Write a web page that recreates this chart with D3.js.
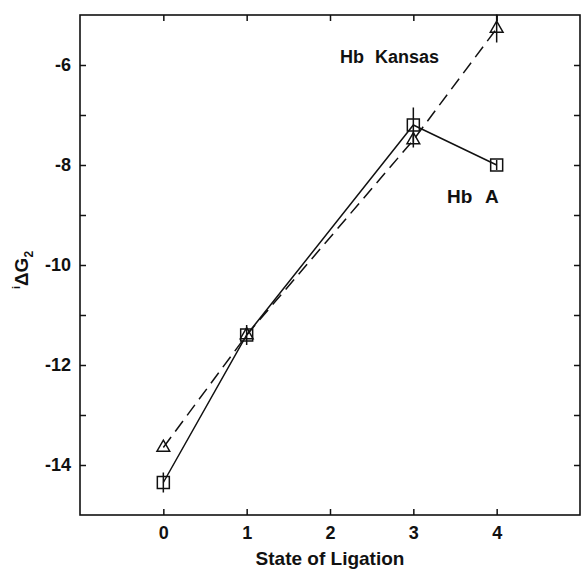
<!DOCTYPE html>
<html>
<head>
<meta charset="utf-8">
<script src="https://cdn.jsdelivr.net/npm/d3@7"></script>
<style>
  body { margin: 0; background: #fff; }
  text { font-family: "Liberation Sans", Arial, Helvetica, sans-serif; font-weight: bold; fill: #111; }
</style>
</head>
<body>
<svg id="chart" width="581" height="571"></svg>
<script>
// Ligation states and free energies (kcal/mol)
const states = [0, 1, 3, 4];
const hbA = [-14.35, -11.4, -7.2, -8.0];
const hbAErr = [0.2, 0.2, 0.35, 0.1];
const hbKansas = [-13.65, -11.4, -7.5, -5.27];
const hbKansasErr = [0, 0, 0.15, 0.28];

const xTicks = [0, 1, 2, 3, 4];
const yTicks = [-14, -13, -12, -11, -10, -9, -8, -7, -6];
const yLabelled = [-14, -12, -10, -8, -6];

const svg = d3.select("#chart");
const plotLeft = 80, plotRight = 580, plotTop = 15, plotBottom = 515;

const x = d3.scaleLinear().domain([-1, 5]).range([plotLeft, plotRight]);
const y = d3.scaleLinear().domain([-15, -5]).range([plotBottom, plotTop]);

const ink = "#111";

// inward ticks on all four sides
const yFmt = d => yLabelled.includes(d) ? String(d) : "";
svg.append("g").attr("transform", `translate(${plotLeft},0)`)
  .call(d3.axisLeft(y).tickValues(yTicks).tickSize(-6).tickSizeOuter(0).tickPadding(9).tickFormat(yFmt))
  .call(g => g.select(".domain").remove())
  .call(g => g.selectAll("line").attr("stroke", ink).attr("stroke-width", 1.5))
  .call(g => g.selectAll("text").attr("font-size", 18).attr("fill", ink));

svg.append("g").attr("transform", `translate(${plotRight},0)`)
  .call(d3.axisRight(y).tickValues(yTicks).tickSize(-6).tickSizeOuter(0).tickFormat(""))
  .call(g => g.select(".domain").remove())
  .call(g => g.selectAll("line").attr("stroke", ink).attr("stroke-width", 1.5));

svg.append("g").attr("transform", `translate(0,${plotBottom})`)
  .call(d3.axisBottom(x).tickValues(xTicks).tickSize(-6).tickSizeOuter(0).tickPadding(11).tickFormat(d => String(d)))
  .call(g => g.select(".domain").remove())
  .call(g => g.selectAll("line").attr("stroke", ink).attr("stroke-width", 1.5))
  .call(g => g.selectAll("text").attr("font-size", 18).attr("fill", ink));

svg.append("g").attr("transform", `translate(0,${plotTop})`)
  .call(d3.axisTop(x).tickValues(xTicks).tickSize(-6).tickSizeOuter(0).tickFormat(""))
  .call(g => g.select(".domain").remove())
  .call(g => g.selectAll("line").attr("stroke", ink).attr("stroke-width", 1.5));

// plot frame
svg.append("rect")
  .attr("x", plotLeft).attr("y", plotTop)
  .attr("width", plotRight - plotLeft).attr("height", plotBottom - plotTop)
  .attr("fill", "none").attr("stroke", ink).attr("stroke-width", 1.6);

const line = d3.line().x(d => x(d[0])).y(d => y(d[1]));

function series(values, errs, dashed, symbol, size) {
  const pts = states.map((s, i) => [s, values[i], errs[i]]);
  const g = svg.append("g");
  g.append("path").datum(pts)
    .attr("d", line)
    .attr("fill", "none").attr("stroke", ink).attr("stroke-width", 1.5)
    .attr("stroke-dasharray", dashed ? "13,7" : null);
  g.selectAll(".err").data(pts.filter(p => p[2] > 0)).join("line")
    .attr("x1", d => x(d[0])).attr("x2", d => x(d[0]))
    .attr("y1", d => y(d[1] - d[2])).attr("y2", d => y(d[1] + d[2]))
    .attr("stroke", ink).attr("stroke-width", 1.5);
  g.selectAll(".mk").data(pts).join("path")
    .attr("transform", d => `translate(${x(d[0])},${y(d[1])})`)
    .attr("d", d3.symbol(symbol, size)())
    .attr("fill", "none").attr("stroke", ink).attr("stroke-width", 1.5);
}

series(hbKansas, hbKansasErr, true, d3.symbolTriangle, 70);
series(hbA, hbAErr, false, d3.symbolSquare, 144);

// series labels
svg.append("text").attr("x", 340).attr("y", 63).attr("font-size", 18)
  .attr("word-spacing", 6).text("Hb Kansas");
svg.append("text").attr("x", 447).attr("y", 203).attr("font-size", 19)
  .attr("word-spacing", 8).text("Hb A");

// axis titles
svg.append("text").attr("x", 330).attr("y", 565).attr("text-anchor", "middle")
  .attr("font-size", 19).text("State of Ligation");

const yt = svg.append("text")
  .attr("transform", "translate(28,270) rotate(-90)")
  .attr("text-anchor", "middle").attr("font-size", 19);
yt.append("tspan").attr("font-size", 11).attr("dy", -8).text("i");
yt.append("tspan").attr("dy", 8).text("ΔG");
yt.append("tspan").attr("font-size", 12).attr("dy", 5).text("2");
</script>
</body>
</html>
